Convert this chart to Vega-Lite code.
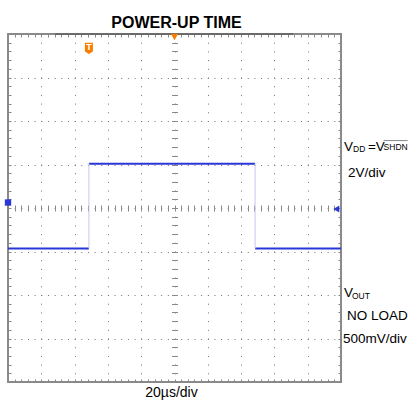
{
  "$schema": "https://vega.github.io/schema/vega-lite/v6.json",
  "width": 333,
  "height": 348,
  "autosize": {"type": "none"},
  "padding": {"left": 8, "top": 34, "right": 68, "bottom": 20},
  "background": "white",
  "config": {
    "view": {"stroke": "#8a8a8a", "strokeWidth": 2},
    "font": "Liberation Sans, Arial, sans-serif"
  },
  "title": {
    "text": "POWER-UP TIME",
    "fontSize": 16,
    "fontWeight": "bold",
    "color": "#000000",
    "anchor": "middle",
    "baseline": "alphabetic",
    "offset": -11,
    "dx": 2,
    "font": "Liberation Sans, Arial, sans-serif"
  },
  "datasets": {
    "wave_h": [
      {"t0": -5, "t1": -2.57, "v": -0.93},
      {"t0": -2.57, "t1": 2.42, "v": 1.02},
      {"t0": 2.42, "t1": 5, "v": -0.93}
    ],
    "wave_v": [
      {"t": -2.57, "v0": -0.93, "v1": 1.02},
      {"t": 2.42, "v0": 1.02, "v1": -0.93}
    ],
    "labels": [
      {"label": "V", "t": 5.09, "v": 1.32},
      {"label": "=V", "t": 5.81, "v": 1.32},
      {"label": "2V/div", "t": 5.21, "v": 0.71},
      {"label": "V", "t": 5.09, "v": -2.05},
      {"label": "NO LOAD", "t": 5.18, "v": -2.57},
      {"label": "500mV/div", "t": 5.06, "v": -3.1}
    ],
    "subs": [
      {"label": "DD", "t": 5.36, "v": 1.276},
      {"label": "SHDN", "t": 6.28, "v": 1.333},
      {"label": "OUT", "t": 5.33, "v": -2.09}
    ],
    "overline": [{"t0": 6.28, "t1": 7.0, "v": 1.55}],
    "record": [{"t0": -3.59, "t1": 3.56, "v": 4}],
    "markers": [
      {"kind": "trigger", "t": -2.57, "v": 3.68},
      {"kind": "position", "t": 0, "v": 3.93},
      {"kind": "level", "t": 4.86, "v": -0.023},
      {"kind": "channel", "t": -5, "v": 0.126}
    ],
    "trigger_label": [{"label": "T", "t": -2.57, "v": 3.7}]
  },
  "resolve": {
    "scale": {"x": "shared", "y": "shared"},
    "axis": {"x": "independent", "y": "independent"}
  },
  "layer": [
    {
      "data": {"name": "wave_h"},
      "mark": {"type": "rule", "color": "#2a36d8", "strokeWidth": 2},
      "encoding": {
        "x": {
          "field": "t0", "type": "quantitative",
          "scale": {"domain": [-5, 5], "nice": false, "zero": false},
          "axis": {
            "orient": "bottom", "values": [-4, -3, -2, -1, 0, 1, 2, 3, 4],
            "grid": true, "gridColor": "#707070", "gridDash": [1, 7.7], "gridDashOffset": 0.5, "gridWidth": 1,
            "ticks": false, "labels": false, "domain": false,
            "title": "20µs/div", "titleFontSize": 14, "titleFontWeight": "normal", "titleColor": "#000000",
            "titlePadding": 3, "titleX": 163, "titleAlign": "center"
          }
        },
        "x2": {"field": "t1"},
        "y": {
          "field": "v", "type": "quantitative",
          "scale": {"domain": [-4, 4], "nice": false, "zero": false},
          "axis": {
            "orient": "left", "values": [-3, -2, -1, 0, 1, 2, 3],
            "grid": true, "gridColor": "#707070", "gridDash": [1, 5.66], "gridDashOffset": 0.5, "gridWidth": 1,
            "ticks": false, "labels": false, "domain": false, "title": null
          }
        }
      }
    },
    {
      "data": {"name": "wave_v"},
      "mark": {"type": "rule", "color": "#c4c8f2", "strokeWidth": 1},
      "encoding": {
        "x": {
          "field": "t", "type": "quantitative",
          "scale": {"domain": [-5, 5], "nice": false, "zero": false},
          "axis": {"orient": "bottom", "tickCount": 50, "tickSize": -3, "tickColor": "#888888", "labels": false, "domain": false, "grid": false, "title": null}
        },
        "y": {
          "field": "v0", "type": "quantitative",
          "scale": {"domain": [-4, 4], "nice": false, "zero": false},
          "axis": {"orient": "left", "tickCount": 40, "tickSize": -3, "tickColor": "#888888", "labels": false, "domain": false, "grid": false, "title": null}
        },
        "y2": {"field": "v1"}
      }
    },
    {
      "data": {"name": "labels"},
      "mark": {"type": "text", "align": "left", "baseline": "alphabetic", "fontSize": 13.5, "color": "#000000"},
      "encoding": {
        "x": {
          "field": "t", "type": "quantitative",
          "scale": {"domain": [-5, 5], "nice": false, "zero": false},
          "axis": {"orient": "top", "tickCount": 50, "tickSize": -3, "tickColor": "#888888", "labels": false, "domain": false, "grid": false, "title": null}
        },
        "y": {
          "field": "v", "type": "quantitative",
          "scale": {"domain": [-4, 4], "nice": false, "zero": false},
          "axis": {"orient": "right", "tickCount": 40, "tickSize": -3, "tickColor": "#888888", "labels": false, "domain": false, "grid": false, "title": null}
        },
        "text": {"field": "label"}
      }
    },
    {
      "data": {"name": "subs"},
      "mark": {"type": "text", "align": "left", "baseline": "alphabetic", "fontSize": 8.5, "color": "#000000"},
      "encoding": {
        "x": {
          "field": "t", "type": "quantitative",
          "scale": {"domain": [-5, 5], "nice": false, "zero": false},
          "axis": {"orient": "bottom", "offset": -174, "tickCount": 50, "tickSize": 3, "tickColor": "#888888", "labels": false, "domain": false, "grid": false, "title": null}
        },
        "y": {
          "field": "v", "type": "quantitative",
          "scale": {"domain": [-4, 4], "nice": false, "zero": false},
          "axis": {"orient": "left", "offset": -166.5, "tickCount": 40, "tickSize": 3, "tickColor": "#888888", "labels": false, "domain": false, "grid": false, "title": null}
        },
        "text": {"field": "label"}
      }
    },
    {
      "data": {"name": "overline"},
      "mark": {"type": "rule", "color": "#888888", "strokeWidth": 1},
      "encoding": {
        "x": {
          "field": "t0", "type": "quantitative",
          "scale": {"domain": [-5, 5], "nice": false, "zero": false},
          "axis": {"orient": "top", "offset": -174, "tickCount": 50, "tickSize": 3, "tickColor": "#888888", "labels": false, "domain": false, "grid": false, "title": null}
        },
        "x2": {"field": "t1"},
        "y": {
          "field": "v", "type": "quantitative",
          "scale": {"domain": [-4, 4], "nice": false, "zero": false},
          "axis": {"orient": "right", "offset": -166.5, "tickCount": 40, "tickSize": 3, "tickColor": "#888888", "labels": false, "domain": false, "grid": false, "title": null}
        }
      }
    },
    {
      "data": {"name": "record"},
      "mark": {"type": "rule", "color": "#6a6a6a", "strokeWidth": 2},
      "encoding": {
        "x": {"field": "t0", "type": "quantitative", "axis": null},
        "x2": {"field": "t1"},
        "y": {"field": "v", "type": "quantitative", "axis": null}
      }
    },
    {
      "data": {"name": "markers"},
      "mark": {"type": "point", "filled": true, "opacity": 1},
      "encoding": {
        "x": {"field": "t", "type": "quantitative", "axis": null},
        "y": {"field": "v", "type": "quantitative", "axis": null},
        "shape": {
          "field": "kind", "type": "nominal", "legend": null,
          "scale": {"domain": ["trigger", "position", "level", "channel"],
                    "range": ["M-1,-1.3L1,-1.3L1,0.9L0,1.5L-1,0.9Z", "triangle-down", "triangle-left", "square"]}
        },
        "size": {
          "field": "kind", "type": "nominal", "legend": null,
          "scale": {"domain": ["trigger", "position", "level", "channel"], "range": [64, 40, 36, 9]}
        },
        "color": {
          "field": "kind", "type": "nominal", "legend": null,
          "scale": {"domain": ["trigger", "position", "level", "channel"], "range": ["#f77f00", "#f77f00", "#2a36d8", "#2a36d8"]}
        }
      }
    },
    {
      "data": {"name": "trigger_label"},
      "mark": {"type": "text", "align": "center", "baseline": "middle", "fontSize": 9, "fontWeight": "bold", "color": "#ffffff", "font": "Liberation Sans, Arial, sans-serif"},
      "encoding": {
        "x": {"field": "t", "type": "quantitative", "axis": null},
        "y": {"field": "v", "type": "quantitative", "axis": null},
        "text": {"field": "label"}
      }
    }
  ]
}
